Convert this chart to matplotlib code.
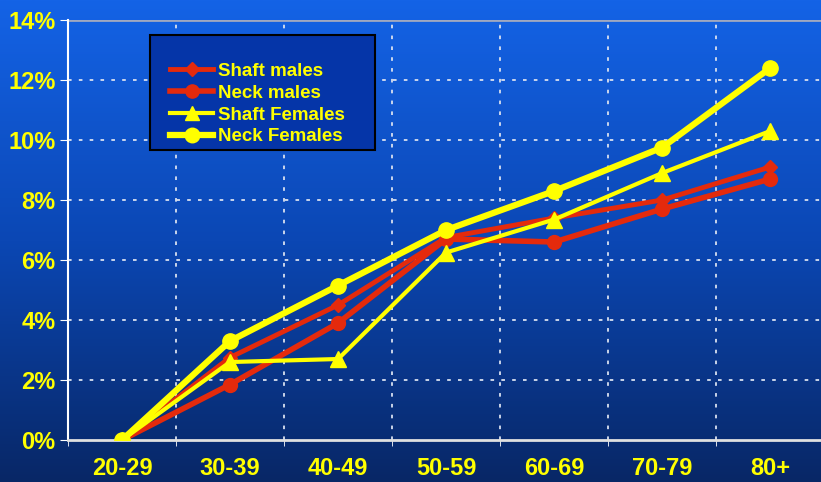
import numpy as np
import matplotlib
matplotlib.use("Agg")
import matplotlib.pyplot as plt
from matplotlib.colors import LinearSegmentedColormap
from matplotlib.patches import Rectangle
from matplotlib.ticker import FixedLocator

# data
groups = ["20-29", "30-39", "40-49", "50-59", "60-69", "70-79", "80+"]
shaft_males = [0.0, 2.75, 4.5, 6.75, 7.4, 8.0, 9.1]
neck_males = [0.0, 1.85, 3.9, 6.7, 6.6, 7.7, 8.7]
shaft_females = [0.0, 2.6, 2.7, 6.25, 7.35, 8.9, 10.3]
neck_females = [0.0, 3.3, 5.15, 7.0, 8.3, 9.75, 12.4]
yticks = [0, 2, 4, 6, 8, 10, 12, 14]

RED = "#e42a0c"
YEL = "#ffff00"
FONT = "Liberation Sans"

fig = plt.figure(figsize=(8.21, 4.82), dpi=100)

# gradient background across the whole figure
bg = fig.add_axes([0, 0, 1, 1], zorder=-10)
cmap = LinearSegmentedColormap.from_list("bg", ["#1463e6", "#0b47b4", "#082766"])
grad = np.linspace(0, 1, 256).reshape(-1, 1)
bg.imshow(grad, aspect="auto", cmap=cmap, extent=[0, 1, 0, 1])
bg.axis("off")

ax = fig.add_axes([0.0828, 0.0871, 0.9172, 0.8714])
ax.patch.set_alpha(0)
x = np.arange(len(groups))

ax.plot(x, shaft_males, color=RED, lw=3.5, marker="D", ms=7, label="Shaft males", zorder=3)
ax.plot(x, neck_males, color=RED, lw=4, marker="o", ms=10, label="Neck males", zorder=3)
ax.plot(x, shaft_females, color=YEL, lw=3, marker="^", ms=11, label="Shaft Females", zorder=4)
ax.plot(x, neck_females, color=YEL, lw=4.5, marker="o", ms=11, label="Neck Females", zorder=5)

ax.set_xlim(-0.5, 6.47)
ax.set_ylim(0, 14)

ax.set_xticks(x)
ax.set_xticklabels(groups)
ax.xaxis.set_minor_locator(FixedLocator(np.arange(-0.5, 6.5, 1.0)))
ax.tick_params(axis="x", which="major", length=0, pad=12)
ax.tick_params(axis="x", which="minor", length=4, color="white", direction="out")
ax.set_yticks(yticks)
ax.set_yticklabels([f"{v}%" for v in yticks])
ax.tick_params(axis="y", length=6, color="white", pad=3)

for lab in ax.get_xticklabels() + ax.get_yticklabels():
    lab.set_color(YEL)
    lab.set_fontweight("bold")
    lab.set_fontsize(17)
    lab.set_family(FONT)

# grid
for v in yticks[1:-1]:
    ax.axhline(v, color="#d8e0f0", lw=1.3, ls=(0, (2, 4)), zorder=1)
ax.axhline(14, color="#a0a8c0", lw=2, zorder=1)
for v in np.arange(0.5, 6.5, 1.0):
    ax.axvline(v, color="#d8e0f0", lw=1.3, ls=(0, (2, 4)), zorder=1)

for s in ["top", "right"]:
    ax.spines[s].set_visible(False)
ax.spines["left"].set_color("white")
ax.spines["left"].set_linewidth(1.5)
ax.spines["bottom"].set_color("#e0e0e0")
ax.spines["bottom"].set_linewidth(2)

# legend box drawn separately (text sits low inside it)
box = Rectangle((150 / 821, 1 - 150 / 482), 225 / 821, 115 / 482, transform=fig.transFigure,
                facecolor="#0535a8", edgecolor="black", lw=1.5, zorder=6)
ax.add_artist(box)
box.set_clip_on(False)

leg = ax.legend(loc="upper left", bbox_to_anchor=(0.1355, 0.898), borderaxespad=0,
                frameon=False, handlelength=2.3, handletextpad=0.25,
                labelspacing=0.25, borderpad=0, markerscale=0.95,
                prop={"family": FONT, "weight": "bold", "size": 13.5})
leg.set_zorder(7)
for t in leg.get_texts():
    t.set_color(YEL)

fig.savefig("out.png", dpi=100)
